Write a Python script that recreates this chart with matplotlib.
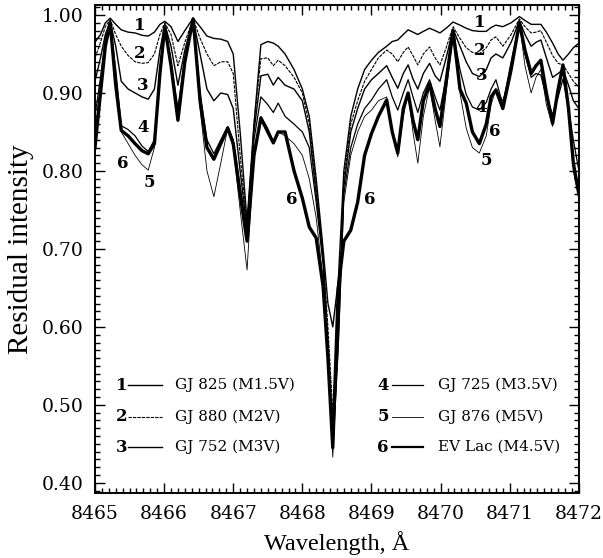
import matplotlib
matplotlib.use('Agg')
import matplotlib.pyplot as plt
from matplotlib.ticker import MultipleLocator

plt.rcParams['font.family'] = 'DejaVu Serif'

# wavelength grid (A) and residual intensity of the six stars
wavelength = [
    8465.00, 8465.08, 8465.15, 8465.22, 8465.30, 8465.38, 8465.48, 8465.58, 8465.68, 8465.77,
    8465.86, 8465.94, 8466.01, 8466.10, 8466.20, 8466.30, 8466.42, 8466.52, 8466.62, 8466.72,
    8466.82, 8466.92, 8467.00, 8467.10, 8467.20, 8467.30, 8467.40, 8467.50, 8467.58, 8467.65,
    8467.75, 8467.88, 8468.00, 8468.10, 8468.20, 8468.30, 8468.37, 8468.44, 8468.52, 8468.60,
    8468.70, 8468.80, 8468.90, 8469.00, 8469.10, 8469.22, 8469.30, 8469.38, 8469.46, 8469.53,
    8469.60, 8469.67, 8469.75, 8469.84, 8469.92, 8469.99, 8470.08, 8470.18, 8470.28, 8470.37,
    8470.46, 8470.56, 8470.66, 8470.73, 8470.80, 8470.90, 8471.02, 8471.14, 8471.22, 8471.31,
    8471.38, 8471.45, 8471.53, 8471.62, 8471.70, 8471.77, 8471.85, 8471.92, 8472.00]

gj825 = [
    0.965, 0.975, 0.990, 0.996, 0.988, 0.981, 0.978, 0.977, 0.974, 0.973,
    0.978, 0.988, 0.992, 0.985, 0.966, 0.980, 0.996, 0.985, 0.973, 0.970,
    0.969, 0.966, 0.950, 0.850, 0.735, 0.860, 0.962, 0.966, 0.964, 0.960,
    0.950, 0.930, 0.905, 0.870, 0.790, 0.700, 0.630, 0.600, 0.660, 0.800,
    0.870, 0.905, 0.930, 0.942, 0.952, 0.960, 0.966, 0.968, 0.975, 0.981,
    0.978, 0.975, 0.979, 0.983, 0.980, 0.977, 0.983, 0.991, 0.987, 0.983,
    0.980, 0.979, 0.979, 0.984, 0.987, 0.985, 0.990, 0.998, 0.993, 0.988,
    0.988, 0.988, 0.978, 0.964, 0.950, 0.942, 0.950, 0.958, 0.964]

gj880 = [
    0.945, 0.965, 0.985, 0.994, 0.975, 0.960, 0.948, 0.940, 0.938, 0.939,
    0.950, 0.975, 0.990, 0.975, 0.935, 0.965, 0.995, 0.970, 0.950, 0.935,
    0.940, 0.940, 0.925, 0.820, 0.730, 0.860, 0.944, 0.945, 0.935, 0.942,
    0.935, 0.920, 0.900, 0.860, 0.780, 0.690, 0.600, 0.490, 0.620, 0.790,
    0.860, 0.890, 0.915, 0.930, 0.945, 0.955, 0.950, 0.940, 0.952, 0.959,
    0.948, 0.936, 0.950, 0.959, 0.945, 0.936, 0.958, 0.985, 0.970, 0.958,
    0.952, 0.950, 0.958, 0.968, 0.972, 0.960, 0.975, 0.995, 0.985, 0.977,
    0.978, 0.980, 0.965, 0.948, 0.938, 0.936, 0.925, 0.915, 0.908]

gj752 = [
    0.915, 0.945, 0.975, 0.992, 0.960, 0.915, 0.905, 0.900, 0.895, 0.892,
    0.905, 0.955, 0.988, 0.960, 0.910, 0.955, 0.995, 0.950, 0.905, 0.890,
    0.900, 0.898, 0.880, 0.800, 0.725, 0.850, 0.922, 0.924, 0.910, 0.920,
    0.910, 0.905, 0.890, 0.850, 0.770, 0.690, 0.580, 0.460, 0.600, 0.780,
    0.850, 0.880, 0.905, 0.917, 0.925, 0.935, 0.920, 0.906, 0.925, 0.936,
    0.918, 0.905, 0.925, 0.938, 0.922, 0.915, 0.945, 0.982, 0.960, 0.940,
    0.925, 0.921, 0.930, 0.945, 0.950, 0.945, 0.965, 0.993, 0.975, 0.960,
    0.965, 0.968, 0.945, 0.920, 0.925, 0.930, 0.910, 0.890, 0.880]

gj725 = [
    0.870, 0.920, 0.970, 0.990, 0.930, 0.858, 0.853, 0.845, 0.832, 0.825,
    0.840, 0.930, 0.985, 0.940, 0.880, 0.945, 0.995, 0.900, 0.840, 0.822,
    0.840, 0.857, 0.840, 0.780, 0.720, 0.840, 0.895, 0.885, 0.875, 0.887,
    0.870, 0.860, 0.850, 0.830, 0.760, 0.680, 0.570, 0.445, 0.580, 0.770,
    0.830, 0.860, 0.880, 0.891, 0.905, 0.917, 0.895, 0.878, 0.900, 0.917,
    0.895, 0.875, 0.900, 0.917, 0.895, 0.878, 0.920, 0.980, 0.930, 0.898,
    0.882, 0.878, 0.888, 0.905, 0.917, 0.885, 0.940, 0.990, 0.950, 0.920,
    0.925, 0.923, 0.895, 0.872, 0.895, 0.918, 0.880, 0.840, 0.800]

gj876 = [
    0.850, 0.910, 0.965, 0.990, 0.920, 0.850, 0.835, 0.820, 0.808, 0.801,
    0.830, 0.930, 0.985, 0.935, 0.865, 0.940, 0.995, 0.880, 0.800, 0.767,
    0.810, 0.855, 0.830, 0.750, 0.673, 0.820, 0.870, 0.855, 0.838, 0.850,
    0.845, 0.835, 0.820, 0.790, 0.740, 0.660, 0.550, 0.433, 0.570, 0.760,
    0.820, 0.850, 0.870, 0.878, 0.890, 0.895, 0.850, 0.818, 0.870, 0.900,
    0.850, 0.810, 0.870, 0.908, 0.865, 0.831, 0.900, 0.975, 0.900, 0.855,
    0.830, 0.823, 0.845, 0.885, 0.905, 0.890, 0.930, 0.990, 0.935, 0.900,
    0.920, 0.930, 0.885, 0.857, 0.900, 0.936, 0.880, 0.800, 0.767]

evlac = [
    0.830, 0.900, 0.960, 0.990, 0.910, 0.852, 0.845, 0.835, 0.826, 0.822,
    0.835, 0.925, 0.985, 0.935, 0.865, 0.940, 0.995, 0.890, 0.830, 0.815,
    0.835, 0.855, 0.835, 0.770, 0.710, 0.820, 0.868, 0.850, 0.836, 0.850,
    0.850, 0.800, 0.765, 0.728, 0.714, 0.652, 0.560, 0.445, 0.650, 0.710,
    0.724, 0.760, 0.820, 0.848, 0.870, 0.891, 0.850, 0.823, 0.880, 0.900,
    0.865, 0.840, 0.890, 0.912, 0.880, 0.857, 0.915, 0.980, 0.905, 0.887,
    0.850, 0.835, 0.860, 0.895, 0.904, 0.880, 0.930, 0.990, 0.955, 0.925,
    0.935, 0.942, 0.900, 0.861, 0.905, 0.936, 0.880, 0.810, 0.770]

numbers = ['1', '2', '3', '4', '5', '6']
names = ['GJ 825 (M1.5V)', 'GJ 880 (M2V)', 'GJ 752 (M3V)',
         'GJ 725 (M3.5V)', 'GJ 876 (M5V)', 'EV Lac (M4.5V)']
spectra = [gj825, gj880, gj752, gj725, gj876, evlac]

styles = [dict(lw=1.0, ls='-'),
          dict(lw=0.8, ls=(0, (3, 1))),
          dict(lw=1.0, ls='-'),
          dict(lw=0.9, ls='-'),
          dict(lw=0.6, ls='-'),
          dict(lw=2.4, ls='-')]

fig = plt.figure(figsize=(6.03, 5.58), dpi=100)
ax = fig.add_axes([0.1575, 0.1165, 0.8025, 0.8745])

for y, st in zip(spectra, styles):
    ax.plot(wavelength, y, color='black', solid_joinstyle='round', **st)

ax.set_xlim(8465, 8472)
ax.set_ylim(0.387, 1.0128)
ax.set_xticks(range(8465, 8473))
ax.set_xticklabels([str(v) for v in range(8465, 8473)], fontsize=13.5)
ax.set_yticks([0.4, 0.5, 0.6, 0.7, 0.8, 0.9, 1.0])
ax.set_yticklabels(['0.40', '0.50', '0.60', '0.70', '0.80', '0.90', '1.00'],
                   fontsize=13.5)
ax.xaxis.set_minor_locator(MultipleLocator(0.1))
ax.yaxis.set_minor_locator(MultipleLocator(0.01))
ax.tick_params(which='both', direction='in', top=True, right=True, width=1.0)
ax.tick_params(which='major', length=7)
ax.tick_params(which='minor', length=3.5)
ax.tick_params(axis='x', which='major', pad=9)
ax.tick_params(axis='y', which='major', pad=8)
for sp in ax.spines.values():
    sp.set_linewidth(1.4)

fig.text(0.559, 0.026, 'Wavelength, Å', ha='center', va='center',
         family='Liberation Serif', fontsize=17.5)
fig.text(0.034, 0.553, 'Residual intensity', ha='center', va='center',
         rotation=90, family='Liberation Serif', fontsize=21)

# curve numbers
lab_kw = dict(fontsize=12, fontweight='bold', ha='center', va='center')
left_pos = [(8465.65, 0.987), (8465.65, 0.951), (8465.69, 0.910),
            (8465.69, 0.856), (8465.78, 0.785), (8465.40, 0.810)]
right_pos = [(8470.56, 0.990), (8470.56, 0.955), (8470.59, 0.923),
             (8470.59, 0.882), (8470.66, 0.814), (8470.78, 0.850)]
for n, p in zip(numbers, left_pos):
    ax.text(p[0], p[1], n, **lab_kw)
for n, p in zip(numbers, right_pos):
    ax.text(p[0], p[1], n, **lab_kw)
ax.text(8467.85, 0.763, '6', **lab_kw)
ax.text(8468.97, 0.763, '6', **lab_kw)

# legend
rows = [0.221, 0.156, 0.094]
cols = [(0.056, 0.068, 0.138, 0.165), (0.595, 0.613, 0.678, 0.709)]
for i, (n, name, st) in enumerate(zip(numbers, names, styles)):
    xn, x0, x1, xt = cols[i // 3]
    yr = rows[i % 3]
    ax.text(xn, yr, n, transform=ax.transAxes, ha='center', va='center',
            fontsize=12, fontweight='bold')
    lw = min(st['lw'], 1.6)
    ax.plot([x0, x1], [yr, yr], transform=ax.transAxes, color='black',
            lw=lw, ls=st['ls'])
    ax.text(xt, yr, name, transform=ax.transAxes, ha='left', va='center',
            fontsize=11)

fig.savefig('out.png', dpi=100, facecolor='white')
